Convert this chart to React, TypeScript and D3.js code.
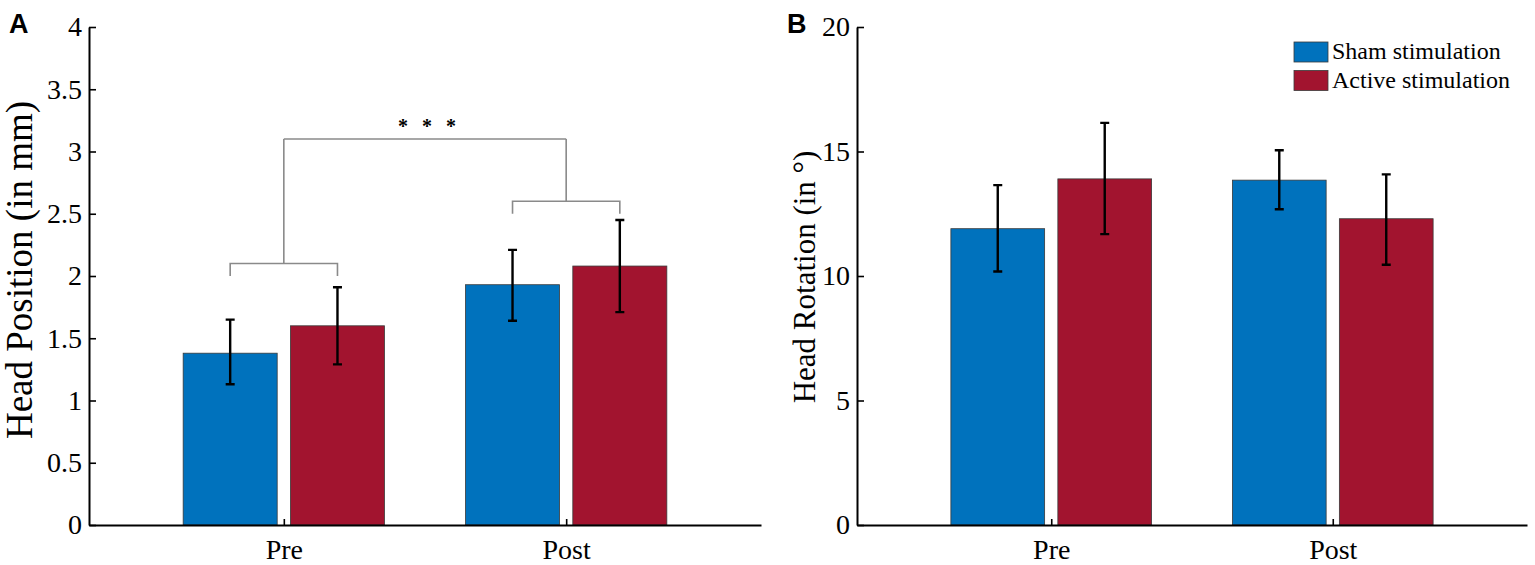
import React, { useRef, useEffect } from "react";
import * as d3 from "d3";

// conditions on the x axis and the two stimulation groups
const conditions = ["Pre", "Post"];
const groups = ["Sham stimulation", "Active stimulation"];

// Panel A: head position (mm), mean and error bar ends
const positionShamMean = [1.38, 1.93];
const positionShamLo = [1.13, 1.64];
const positionShamHi = [1.65, 2.21];
const positionActiveMean = [1.6, 2.08];
const positionActiveLo = [1.29, 1.71];
const positionActiveHi = [1.91, 2.45];

// Panel B: head rotation (deg)
const rotationShamMean = [11.9, 13.85];
const rotationShamLo = [10.18, 12.68];
const rotationShamHi = [13.65, 15.05];
const rotationActiveMean = [13.9, 12.3];
const rotationActiveLo = [11.68, 10.45];
const rotationActiveHi = [16.15, 14.08];

const positionTicks = [0, 0.5, 1, 1.5, 2, 2.5, 3, 3.5, 4];
const rotationTicks = [0, 5, 10, 15, 20];

// significance brackets for panel A
const pairBracket = [2.1, 2.6];
const pairBracketLeg = [2.0, 2.5];
const topBracket = 3.1;
const starLevel = 3.23;

const colors = ["#0072BD", "#A2142F"];
const serif = "'Liberation Serif', 'Times New Roman', serif";

const App = () => {
  const ref = useRef<SVGSVGElement>(null);

  useEffect(() => {
    const svg = d3.select(ref.current);
    svg.selectAll("*").remove();

    const top = 27;
    const bottom = 525;
    const offset = 0.19;
    const barW = 0.333;

    const drawPanel = (
      left: number,
      right: number,
      yMax: number,
      ticks: number[],
      series: { mean: number[]; lo: number[]; hi: number[] }[],
      yLabel: string,
      labelX: number,
      labelY: number,
      labelSize: number,
      letter: string,
      letterX: number
    ) => {
      const x = d3.scaleLinear().domain([0.31, 2.69]).range([left, right]);
      const y = d3.scaleLinear().domain([0, yMax]).range([bottom, top]);
      const g = svg.append("g");

      series.forEach((s, si) => {
        const off = si === 0 ? -offset : offset;
        g.selectAll(null)
          .data(s.mean)
          .join("rect")
          .attr("x", (_, i) => x(i + 1 + off - barW / 2))
          .attr("width", x(barW) - x(0))
          .attr("y", (d) => y(d))
          .attr("height", (d) => bottom - y(d))
          .attr("fill", colors[si])
          .attr("stroke", "#3a3a3a")
          .attr("stroke-width", 0.8);

        const cx = (i: number) => x(i + 1 + off);
        g.selectAll(null)
          .data(s.mean)
          .join("path")
          .attr(
            "d",
            (_, i) =>
              `M${cx(i)},${y(s.lo[i])}V${y(s.hi[i])}` +
              `M${cx(i) - 4.5},${y(s.lo[i])}H${cx(i) + 4.5}` +
              `M${cx(i) - 4.5},${y(s.hi[i])}H${cx(i) + 4.5}`
          )
          .attr("stroke", "#000")
          .attr("stroke-width", 2.4)
          .attr("fill", "none");
      });

      const xAxis = d3
        .axisBottom(x)
        .tickValues([1, 2])
        .tickSizeInner(-6)
        .tickSizeOuter(0)
        .tickPadding(14)
        .tickFormat((d) => conditions[(d as number) - 1]);

      const yAxis = d3
        .axisLeft(y)
        .tickValues(ticks)
        .tickSizeInner(-7)
        .tickSizeOuter(0)
        .tickPadding(7)
        .tickFormat((d) => String(d));

      const gx = g.append("g").attr("transform", `translate(0,${bottom})`).call(xAxis);
      const gy = g.append("g").attr("transform", `translate(${left},0)`).call(yAxis);

      [gx, gy].forEach((ax) => {
        ax.attr("font-family", serif).attr("font-size", 28);
        ax.select(".domain").attr("stroke-width", 2);
        ax.selectAll(".tick line").attr("stroke-width", 1.6);
        ax.selectAll("text").style("font-family", serif).style("font-size", "28px").attr("fill", "#000");
      });

      g.append("text")
        .attr("transform", `translate(${labelX},${labelY}) rotate(-90)`)
        .attr("text-anchor", "middle")
        .style("font-family", serif)
        .attr("font-size", labelSize)
        .text(yLabel);

      g.append("text")
        .attr("x", letterX)
        .attr("y", 33)
        .style("font-family", "'Liberation Sans', Arial, sans-serif")
        .attr("font-weight", "bold")
        .attr("font-size", 27)
        .text(letter);

      return { x, y, g };
    };

    const a = drawPanel(
      89,
      761,
      4,
      positionTicks,
      [
        { mean: positionShamMean, lo: positionShamLo, hi: positionShamHi },
        { mean: positionActiveMean, lo: positionActiveLo, hi: positionActiveHi },
      ],
      "Head Position (in mm)",
      32,
      270,
      37,
      "A",
      9
    );

    // brackets
    const bx = a.x;
    const by = a.y;
    const bracket = a.g.append("g").attr("stroke", "#8a8a8a").attr("stroke-width", 1.6).attr("fill", "none");
    bracket
      .selectAll(null)
      .data(pairBracket)
      .join("path")
      .attr(
        "d",
        (h, i) =>
          `M${bx(i + 1 - offset)},${by(pairBracketLeg[i])}V${by(h)}H${bx(i + 1 + offset)}V${by(pairBracketLeg[i])}` +
          `M${bx(i + 1)},${by(h)}V${by(topBracket)}`
      );
    bracket.append("path").attr("d", `M${bx(1)},${by(topBracket)}H${bx(2)}`);

    a.g
      .selectAll(null)
      .data([-24, 0, 24])
      .join("text")
      .attr("x", (d) => bx(1.5) + 2 + d)
      .attr("y", by(starLevel) + 10)
      .attr("text-anchor", "middle")
      .style("font-family", serif)
      .attr("font-weight", "bold")
      .attr("font-size", 20)
      .attr("fill", "#000")
      .text("*");

    const b = drawPanel(
      857,
      1527,
      20,
      rotationTicks,
      [
        { mean: rotationShamMean, lo: rotationShamLo, hi: rotationShamHi },
        { mean: rotationActiveMean, lo: rotationActiveLo, hi: rotationActiveHi },
      ],
      "Head Rotation (in °)",
      815,
      277,
      31,
      "B",
      787
    );

    // legend
    const legend = b.g.append("g").attr("transform", "translate(1294,42)");
    groups.forEach((name, i) => {
      legend
        .append("rect")
        .attr("x", 0)
        .attr("y", i * 28.5)
        .attr("width", 34)
        .attr("height", 20)
        .attr("fill", colors[i])
        .attr("stroke", "#3a3a3a")
        .attr("stroke-width", 0.8);
      legend
        .append("text")
        .attr("x", 38)
        .attr("y", i * 28.5 + 17)
        .style("font-family", serif)
        .attr("font-size", 24)
        .text(name);
    });
  }, []);

  return (
    <svg
      ref={ref}
      width={1535}
      height={565}
      style={{ position: "absolute", left: 0, top: 0, background: "#fff" }}
    />
  );
};

export default App;
